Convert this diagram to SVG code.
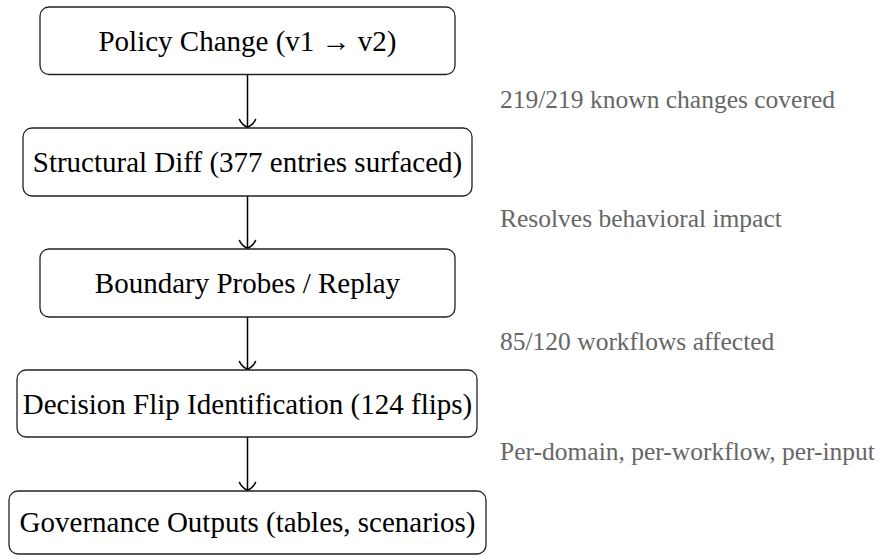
<svg xmlns="http://www.w3.org/2000/svg" width="893" height="556" viewBox="0 0 893 556">
<style>
.box{fill:#fff;stroke:#222;stroke-width:1.3}
.nt{font-family:"Liberation Serif","DejaVu Serif","Noto Serif",serif;font-size:29px;fill:#000;text-anchor:middle}
.st{font-family:"Liberation Serif","DejaVu Serif","Noto Serif",serif;font-size:25.5px;fill:#666}
.edge{stroke:#000;stroke-width:1.5;fill:none}
</style>
<defs>
<marker id="arr" markerUnits="userSpaceOnUse" markerWidth="20" markerHeight="20" viewBox="-10 -10 20 20" refX="0" refY="0" orient="auto">
<path d="M-8,-8 C-3,-6 -1,-1.5 0,0 C-1,1.5 -3,6 -8,8" fill="none" stroke="#000" stroke-width="1.6" stroke-linecap="round"/>
</marker>
</defs>
<rect width="893" height="556" fill="#fff"/>
<g id="edges">
<line class="edge" x1="247.5" y1="74.5" x2="247.5" y2="127.5" marker-end="url(#arr)"/>
<line class="edge" x1="247.5" y1="196" x2="247.5" y2="248.5" marker-end="url(#arr)"/>
<line class="edge" x1="247.5" y1="317" x2="247.5" y2="369.5" marker-end="url(#arr)"/>
<line class="edge" x1="247.5" y1="437" x2="247.5" y2="490.5" marker-end="url(#arr)"/>
</g>
<g id="n1"><rect class="box" x="40" y="7" width="415" height="67.5" rx="9"/><text class="nt" x="247.5" y="51">Policy Change (v1 → v2)</text></g>
<g id="n2"><rect class="box" x="23" y="128" width="449" height="68" rx="9"/><text class="nt" x="247.5" y="172">Structural Diff (377 entries surfaced)</text></g>
<g id="n3"><rect class="box" x="40" y="249" width="415" height="68" rx="9"/><text class="nt" x="247.5" y="293">Boundary Probes / Replay</text></g>
<g id="n4"><rect class="box" x="17" y="370" width="460" height="67" rx="9"/><text class="nt" x="247.5" y="414">Decision Flip Identification (124 flips)</text></g>
<g id="n5"><rect class="box" x="9" y="491" width="477" height="63" rx="9"/><text class="nt" x="247.5" y="532">Governance Outputs (tables, scenarios)</text></g>
<g id="labels">
<text class="st" x="500" y="108">219/219 known changes covered</text>
<text class="st" x="500" y="227">Resolves behavioral impact</text>
<text class="st" x="500" y="350">85/120 workflows affected</text>
<text class="st" x="500" y="460">Per-domain, per-workflow, per-input</text>
</g>
</svg>
